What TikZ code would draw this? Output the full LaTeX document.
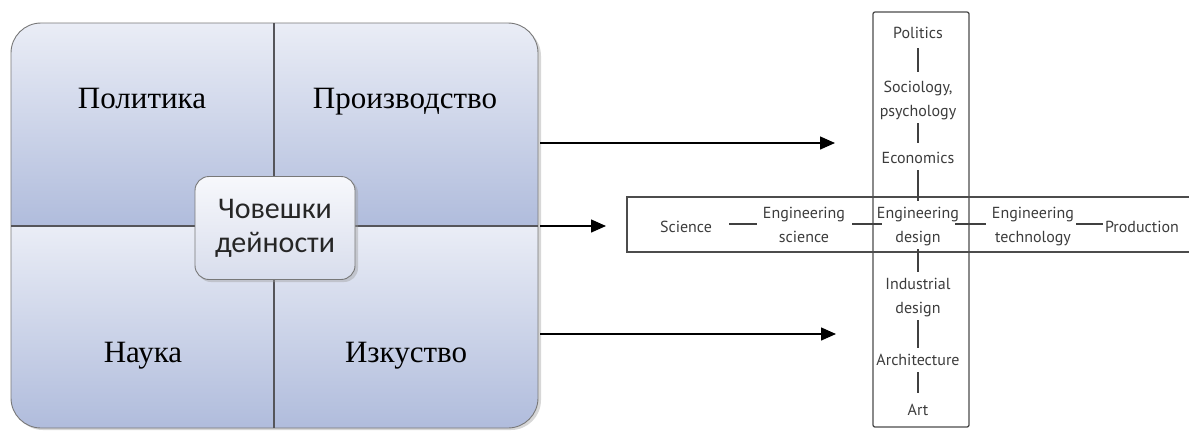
\documentclass[tikz,border=0pt]{standalone}
\usepackage{fontspec}
\setmainfont{Liberation Serif}
\newfontfamily\calfont{Carlito}
\newfontfamily\ptfont{PT Sans}
\usetikzlibrary{arrows.meta}
\definecolor{qtop}{RGB}{234,237,246}
\definecolor{qbot}{RGB}{176,188,220}
\definecolor{ctop}{RGB}{247,248,252}
\definecolor{cbot}{RGB}{216,221,236}
\definecolor{boxline}{RGB}{120,120,120}
\definecolor{divline}{RGB}{85,85,90}
\definecolor{txtgray}{RGB}{60,60,60}
\tikzset{
  quadlabel/.style={font=\fontsize{31bp}{36bp}\selectfont, text=black, anchor=base, inner sep=0pt},
  cbox/.style={draw=boxline, line width=0.9bp, rounded corners=14bp, top color=ctop, bottom color=cbot,
    minimum width=160bp, minimum height=103bp, inner sep=0pt, align=center,
    font=\calfont\fontsize{30bp}{34bp}\selectfont, text=black!85},
  field/.style={font=\ptfont\fontsize{16bp}{24bp}\selectfont, text=txtgray, align=center, inner sep=0pt},
  link/.style={draw=black!75, line width=1.1bp},
  frame/.style={draw=black!70, line width=1.3bp},
  arr/.style={draw=black, line width=1.4bp, -{Triangle[length=15bp,width=13bp]}},
}
\begin{document}
\begin{tikzpicture}[x=1bp,y=-1bp]
\useasboundingbox (0,0) rectangle (1189,430);
% ---- left block: shadow, quadrants, border, dividers
\fill[black!35, opacity=0.45, rounded corners=30bp] (13,26) rectangle (541,430);
\begin{scope}
  \clip[rounded corners=30bp] (11,23) rectangle (538,428);
  \shade[top color=qtop, bottom color=qbot] (11,23) rectangle (538,226);
  \shade[top color=qtop, bottom color=qbot] (11,226) rectangle (538,428);
\end{scope}
\draw[boxline, line width=0.9bp, rounded corners=30bp] (11,23) rectangle (538,428);
\draw[divline, line width=1.1bp] (274,23) -- (274,428);
\draw[divline, line width=1.1bp] (11,226) -- (538,226);
% quadrant labels
\node[quadlabel] (pol)  at (142,108) {Политика};
\node[quadlabel] (proi) at (405,108) {Производство};
\node[quadlabel] (nau)  at (143,362) {Наука};
\node[quadlabel] (izk)  at (406,362) {Изкуство};
% centre box with shadow
\fill[black!40, opacity=0.4, rounded corners=14bp] (197,179) rectangle (358,282);
\node[cbox] (hum) at (275,228) {Човешки\\дейности};
% ---- arrows
\coordinate (a1s) at (540,143);
\coordinate (a1e) at (835,143);
\coordinate (a2s) at (540,226);
\coordinate (a2e) at (606,226);
\coordinate (a3s) at (540,334);
\coordinate (a3e) at (836,334);
\draw[arr] (a1s) -- (a1e);
\draw[arr] (a2s) -- (a2e);
\draw[arr] (a3s) -- (a3e);
% ---- right cross diagram: frames
\draw[frame, rounded corners=2bp] (873,12) rectangle (969,427);
\draw[frame] (1192,197) -- (627,197) -- (627,252) -- (1192,252);
% column
\node[field] (politics) at (918,33.2)  {\strut Politics};
\node[field] (socio)    at (918,99.2)  {\strut Sociology,\\\strut psychology};
\node[field] (econ)     at (918,158.2) {\strut Economics};
\node[field] (engdes)   at (918,225.2) {\strut Engineering\\\strut design};
\node[field] (inddes)   at (918,296.2) {\strut Industrial\\\strut design};
\node[field] (arch)     at (918,360.2) {\strut Architecture};
\node[field] (art)      at (918,410.2) {\strut Art};
% row
\node[field] (science)  at (686,227.2)  {\strut Science};
\node[field] (engsci)   at (804,225.2)  {\strut Engineering\\\strut science};
\node[field] (engtech)  at (1033,225.2) {\strut Engineering\\\strut technology};
\node[field] (prod)     at (1142,227.2) {\strut Production};
% vertical links
\draw[link, shorten <=3bp, shorten >=3bp] (politics.south) -- (socio.north);
\draw[link, shorten >=3bp] (socio.south) -- (econ.north);
\draw[link] (econ.south) -- (engdes.north);
\draw[link] (engdes.south) -- (inddes.north);
\draw[link] (inddes.south) -- (arch.north);
\draw[link, shorten >=5bp] (arch.south) -- (art.north);
% horizontal links
\coordinate (hrow) at (700,224);
\draw[link, shorten <=17bp, shorten >=6bp] (science.east |- hrow) -- (engsci.west |- hrow);
\draw[link, shorten <=7bp, shorten >=-5bp] (engsci.east |- hrow) -- (engdes.west |- hrow);
\draw[link, shorten <=-4bp, shorten >=6bp] (engdes.east |- hrow) -- (engtech.west |- hrow);
\draw[link, shorten <=2bp, shorten >=2bp] (engtech.east |- hrow) -- (prod.west |- hrow);
\end{tikzpicture}
\end{document}
